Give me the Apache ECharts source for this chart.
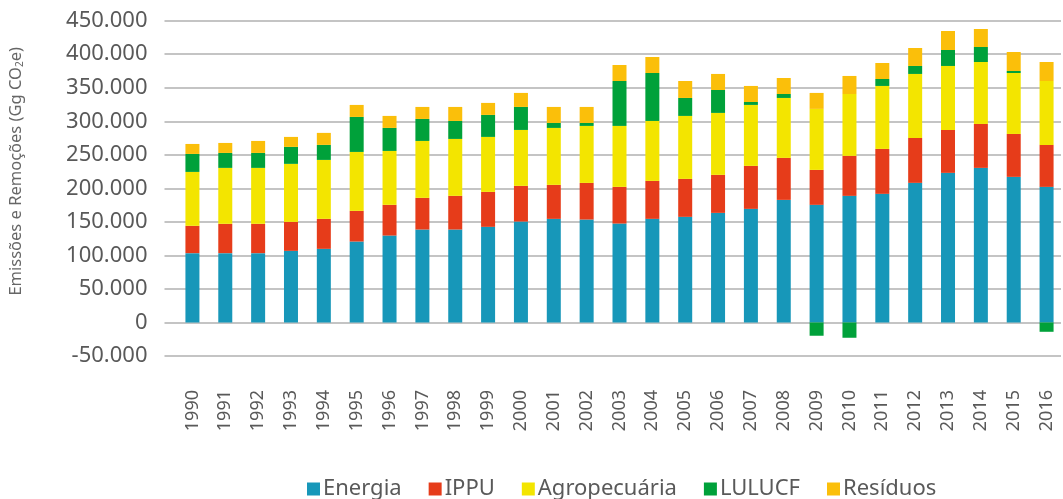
<!DOCTYPE html>
<html>
<head>
<meta charset="utf-8">
<script src="https://cdn.jsdelivr.net/npm/echarts@6/dist/echarts.min.js"></script>
<style>
  html, body { margin: 0; padding: 0; background: #fff; }
  #chart { width: 1063px; height: 499px; }
</style>
</head>
<body>
<div id="chart"></div>
<script>
// Emissões e remoções por setor (Gg CO2e), 1990–2016
const years = ['1990','1991','1992','1993','1994','1995','1996','1997','1998','1999','2000','2001','2002','2003','2004','2005','2006','2007','2008','2009','2010','2011','2012','2013','2014','2015','2016'];

const energia  = [103400,103400,103400,106800,109800,120700,129600,138600,138600,142600,150500,154500,153500,147500,154500,157500,163400,169400,182800,175400,188800,191800,208200,223100,230500,217100,202200];
const ippu     = [40700,43700,43700,43200,44700,45700,45800,47200,50200,52100,53200,50700,54600,54700,56600,56600,56700,64100,62600,52100,59600,67000,67000,64000,65500,64000,62600];
const agro     = [80400,83400,83400,86500,87900,87900,80400,84900,84900,82000,83400,84900,85000,90900,89400,93900,92400,90900,89400,91000,92300,93900,95400,95400,92400,90900,95300];
const lulucf   = [26800,22300,22300,25300,22400,52200,34300,32800,26800,32800,34300,7400,4400,67000,71500,26800,34200,4400,5900,-19800,-22800,10400,11900,23800,22400,3000,-13900];
const residuos = [14900,14900,17900,14900,17900,17900,17900,17900,20900,17900,20900,23900,23900,23800,23900,25300,23900,23900,23900,23800,26900,23800,26800,28300,26800,28300,28300];

const seriesNames  = ['Energia', 'IPPU', 'Agropecuária', 'LULUCF', 'Resíduos'];
const seriesValues = [energia, ippu, agro, lulucf, residuos];
const seriesColors = ['#1797b9', '#e63c1a', '#f3e500', '#00a13a', '#fbbf0a'];

const yMin = -50000, yMax = 450000, yStep = 50000;

const FONT = '"Noto Sans", "Open Sans", sans-serif';
const TEXT = '#595959';

function fmtThousands(v) {
  const neg = v < 0;
  const s = String(Math.abs(Math.round(v))).replace(/\B(?=(\d{3})+(?!\d))/g, '.');
  return (neg ? '-' : '') + s;
}

const chart = echarts.init(document.getElementById('chart'), null, { renderer: 'canvas' });

chart.setOption({
  animation: false,
  backgroundColor: '#ffffff',
  textStyle: { fontFamily: FONT },
  grid: [
    // value scale, labels and gridlines
    { left: 164, right: 2, top: 20.7, bottom: 143, containLabel: false },
    // stacked columns
    { left: 176, right: 0, top: 20.7, bottom: 143, containLabel: false }
  ],
  xAxis: [
    { type: 'category', gridIndex: 0, data: years, show: false },
    {
      type: 'category', gridIndex: 1, data: years,
      axisLine: { show: false }, axisTick: { show: false },
      axisLabel: {
        rotate: 90, margin: 34, color: TEXT, fontSize: 18, fontFamily: FONT,
        interval: 0
      }
    }
  ],
  yAxis: [
    {
      type: 'value', gridIndex: 0, min: yMin, max: yMax, interval: yStep,
      axisLine: { show: false }, axisTick: { show: false },
      axisLabel: { color: TEXT, fontSize: 22, margin: 17, fontFamily: FONT, formatter: fmtThousands },
      splitLine: { lineStyle: { color: '#b0b0b0', width: 1.5 } },
      name: 'Emissões e Remoções (Gg CO{sub|2}e)',
      nameLocation: 'middle', nameGap: 139,
      nameTextStyle: {
        color: '#666666', fontSize: 16.5, fontFamily: FONT,
        padding: [0, 0, 0, 34],
        rich: { sub: { fontSize: 10, color: '#666666', fontFamily: FONT, padding: [8, 0, 0, 0] } }
      }
    },
    {
      type: 'value', gridIndex: 1, min: yMin, max: yMax, interval: yStep,
      show: false, splitLine: { show: false }
    }
  ],
  legend: {
    left: 302, top: 473,
    icon: 'rect', itemWidth: 13, itemHeight: 13, itemGap: 27,
    textStyle: { color: TEXT, fontSize: 22, fontFamily: FONT, padding: [0, 0, 0, -2] },
    data: seriesNames
  },
  series: seriesNames.map((name, i) => ({
    name,
    type: 'bar',
    xAxisIndex: 1, yAxisIndex: 1,
    stack: 'total',
    barWidth: 14,
    itemStyle: { color: seriesColors[i] },
    data: seriesValues[i]
  }))
});
</script>
</body>
</html>
